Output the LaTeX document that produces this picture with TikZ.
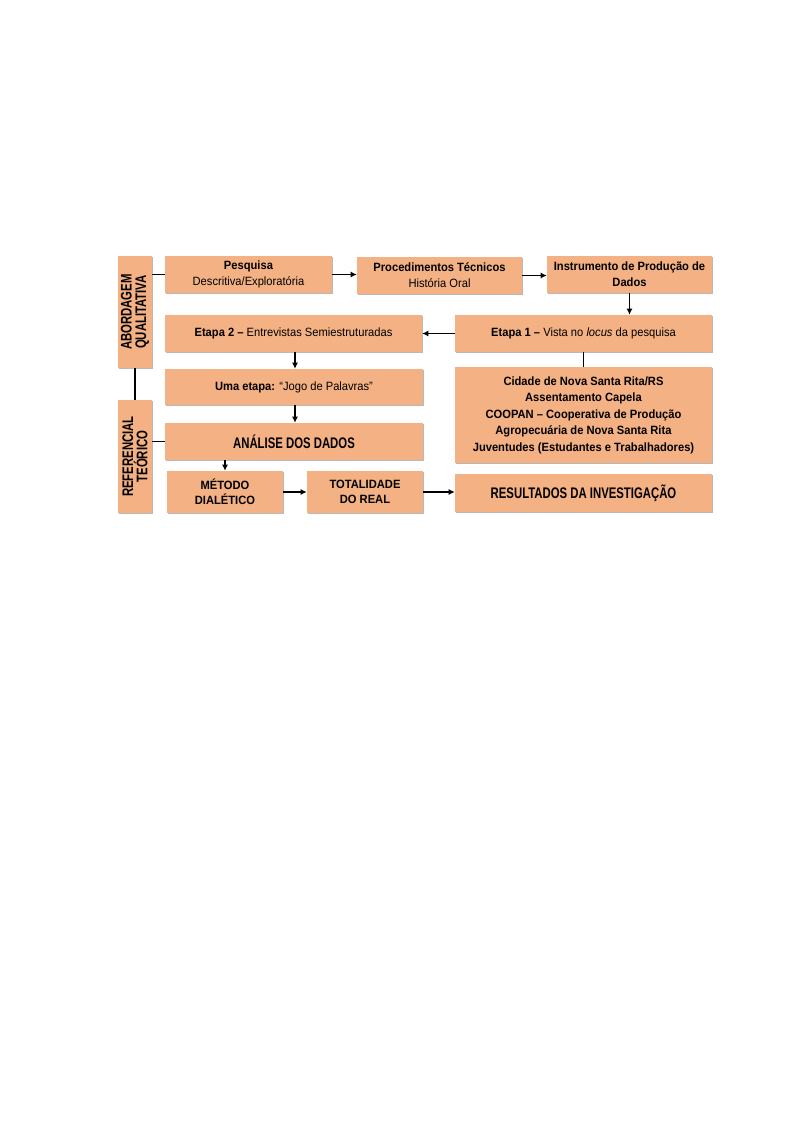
\documentclass[tikz,border=0pt]{standalone}
\usepackage{fontspec}
\setmainfont{Liberation Sans}[FakeStretch=0.93]
\newfontfamily\narrowfont{Liberation Sans}[FakeStretch=0.74]
\usetikzlibrary{shadows,arrows.meta}
\definecolor{boxfill}{HTML}{F4B183}
\definecolor{boxshadow}{HTML}{A6A6A6}
\tikzset{
  box/.style={fill=boxfill, draw=none, align=center, inner sep=1pt,
    font=\fontsize{9}{12}\selectfont,
    drop shadow={shadow xshift=0.9pt, shadow yshift=-0.9pt, fill=boxshadow, opacity=0.8}},
  bigtext/.style={font=\narrowfont\bfseries\fontsize{11.5}{13}\selectfont},
  sz/.style 2 args={minimum width=#1*0.75pt, minimum height=#2*0.75pt},
  conn/.style={line width=1.4pt, black},
  arr/.style={conn, -{Latex[length=4.5pt,width=4.5pt]}},
  vlabel/.style={rotate=90, align=center, font=\narrowfont\bfseries\fontsize{11.5}{10.8}\selectfont}
}
\begin{document}
\begin{tikzpicture}[x=0.75pt,y=-0.75pt]
\useasboundingbox (0,0) rectangle (794,1123);
% left vertical boxes
\node[box, sz={34}{112}] (abq) at (135,312) {};
\node[vlabel] (abqt) at (abq.center) {ABORDAGEM\\QUALITATIVA};
\node[box, sz={34}{113}] (ref) at (135,456.5) {};
\node[vlabel] (reft) at (ref.center) {REFERENCIAL\\TEÓRICO};
% row 1
\node[box, sz={167}{37}] (pesq) at (248.5,274.5) {\textbf{Pesquisa}\\Descritiva/Exploratória};
\node[box, sz={165}{37}] (proc) at (439.5,275.5) {\textbf{Procedimentos Técnicos}\\História Oral};
\node[box, sz={165}{37}] (inst) at (629.5,274.5) {\textbf{Instrumento de Produção de}\\\textbf{Dados}};
% row 2
\node[box, sz={257}{37}] (et1) at (583.5,333.5) {\textbf{Etapa 1 –} Vista no \textit{locus} da pesquisa};
\node[box, sz={257}{37}] (et2) at (293.5,333.5) {\textbf{Etapa 2 –} Entrevistas Semiestruturadas};
% row 3
\node[box, sz={258}{36}] (uma) at (294,387) {\textbf{Uma etapa:} “Jogo de Palavras”};
\node[box, sz={257}{96}, font=\fontsize{9}{12.4}\selectfont] (cid) at (583.5,415) {\textbf{Cidade de Nova Santa Rita/RS}\\\textbf{Assentamento Capela}\\\textbf{COOPAN – Cooperativa de Produção}\\\textbf{Agropecuária de Nova Santa Rita}\\\textbf{Juventudes (Estudantes e Trabalhadores)}};
% row 4
\node[box, sz={258}{37}, bigtext] (anal) at (294,441.5) {ANÁLISE DOS DADOS};
% row 5
\node[box, sz={116}{42}, font=\fontsize{9}{11.3}\selectfont] (met) at (225,492) {\textbf{MÉTODO}\\\textbf{DIALÉTICO}};
\node[box, sz={116}{42}, font=\fontsize{9}{11.3}\selectfont] (tot) at (365,492) {\textbf{TOTALIDADE}\\\textbf{DO REAL}};
\node[box, sz={257}{38}, bigtext] (res) at (583.5,493) {RESULTADOS DA INVESTIGAÇÃO};
% connectors
\draw[conn] (pesq.west -| abq.east) -- (pesq.west);
\draw[conn] (abq.south) -- (ref.north);
\draw[conn] (anal.west -| ref.east) -- (anal.west);
\draw[arr] (pesq.east) -- (proc.west |- pesq.east);
\draw[arr] (proc.east) -- (inst.west |- proc.east);
\draw[arr] (inst.south) -- (et1.north -| inst.south);
\draw[arr] (et1.west) -- (et2.east);
\draw[conn] (et1.south) -- (cid.north);
\draw[arr] (et2.south -| 295,0) -- (uma.north -| 295,0);
\draw[arr] (uma.south -| 295,0) -- (anal.north -| 295,0);
\draw[arr] (anal.south -| met.north) -- (met.north);
\draw[arr] (met.east) -- (tot.west);
\draw[arr] (tot.east) -- (tot.east -| res.west);
\end{tikzpicture}
\end{document}
